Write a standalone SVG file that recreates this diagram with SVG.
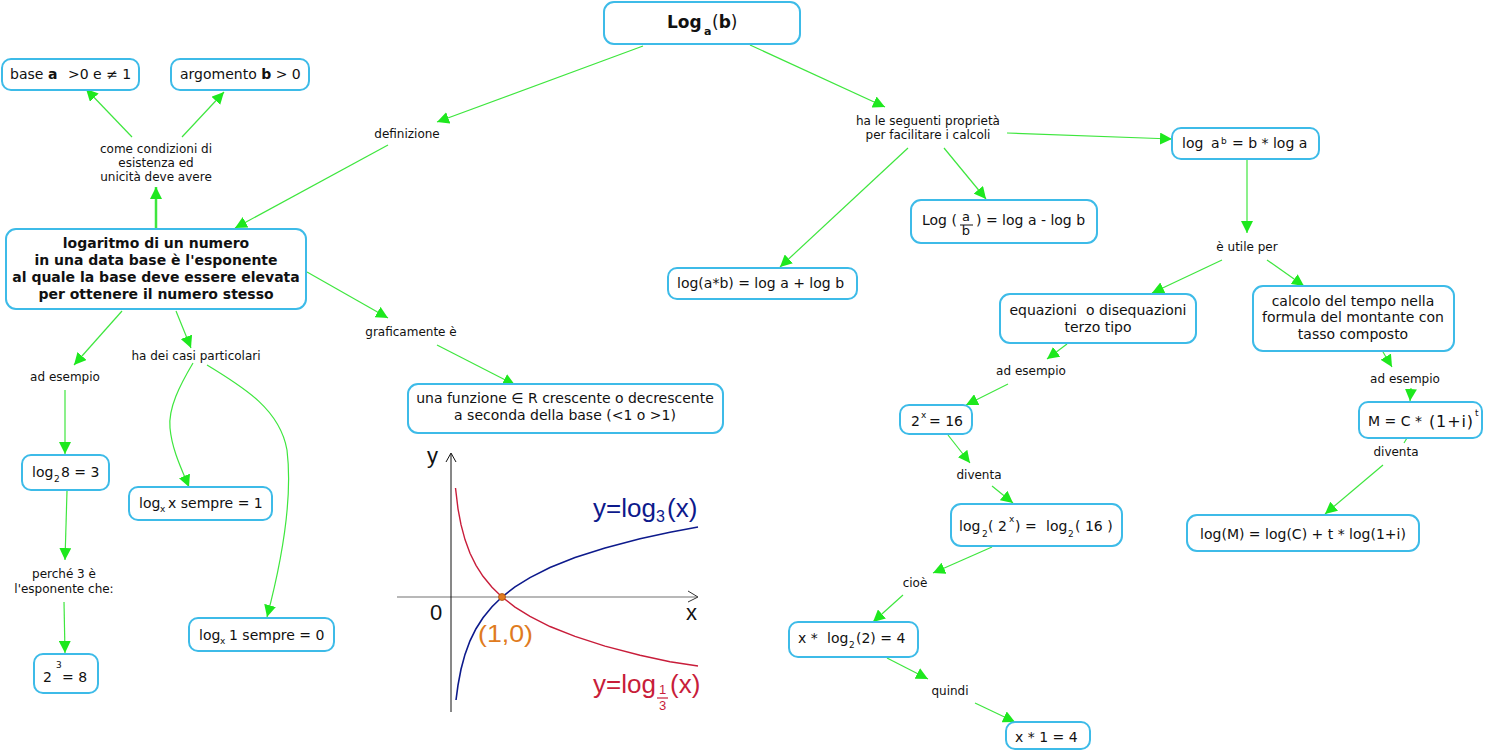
<svg xmlns="http://www.w3.org/2000/svg" width="1485" height="752" viewBox="0 0 1485 752">
<style>
.box{fill:#fff;stroke:#3dbbe8;stroke-width:2}
.t{font-family:"DejaVu Sans",Verdana,sans-serif;font-size:14px;fill:#111}
.l{font-family:"DejaVu Sans",Verdana,sans-serif;font-size:12px;fill:#111;text-anchor:middle}
.m{text-anchor:middle}
.b{font-weight:bold}
.s{font-size:9px}
.c{stroke:#3ee63e;stroke-width:1.2;fill:none;marker-end:url(#ah)}
.g{font-family:"Liberation Sans",Arial,sans-serif}
</style>
<defs>
<marker id="ah" markerUnits="userSpaceOnUse" markerWidth="13" markerHeight="12" refX="12" refY="6" orient="auto">
<path d="M0,0 L12,6 L0,12 z" fill="#1ee81e"/>
</marker>
</defs>
<rect width="1485" height="752" fill="#fff"/>

<g id="connectors">
<line class="c" x1="643" y1="46" x2="437" y2="122"/>
<line class="c" x1="388" y1="145" x2="235" y2="228"/>
<line class="c" x1="750" y1="45" x2="885" y2="107"/>
<line class="c" x1="1007" y1="133" x2="1172" y2="139"/>
<line class="c" x1="908" y1="148" x2="780" y2="267"/>
<line class="c" x1="944" y1="148" x2="986" y2="199"/>
<line class="c" x1="1247" y1="160" x2="1247" y2="233"/>
<line class="c" x1="1222" y1="260" x2="1152" y2="293"/>
<line class="c" x1="1267" y1="260" x2="1304" y2="286"/>
<line class="c" x1="156" y1="228" x2="156" y2="187" style="stroke-width:2.5"/>
<line class="c" x1="132" y1="137" x2="86" y2="89"/>
<line class="c" x1="182" y1="137" x2="224" y2="92"/>
<line class="c" x1="122" y1="311" x2="74" y2="365"/>
<line class="c" x1="176" y1="311" x2="191" y2="348"/>
<line class="c" x1="65" y1="390" x2="65" y2="454"/>
<line class="c" x1="67" y1="491" x2="65" y2="560"/>
<line class="c" x1="64" y1="602" x2="65" y2="653"/>
<path class="c" d="M193,363 C180,385 168,408 170,428 C172,450 182,470 189,487"/>
<path class="c" d="M207,365 C245,388 280,410 287,450 C293,500 282,560 267,617"/>
<line class="c" x1="307" y1="272" x2="388" y2="318"/>
<line class="c" x1="437" y1="345" x2="515" y2="385"/>
<line class="c" x1="1067" y1="344" x2="1047" y2="359"/>
<line class="c" x1="1008" y1="384" x2="966" y2="405"/>
<line class="c" x1="948" y1="435" x2="970" y2="463"/>
<line class="c" x1="992" y1="486" x2="1013" y2="503"/>
<line class="c" x1="992" y1="547" x2="933" y2="573"/>
<line class="c" x1="903" y1="595" x2="873" y2="622"/>
<line class="c" x1="887" y1="658" x2="928" y2="679"/>
<line class="c" x1="975" y1="703" x2="1015" y2="722"/>
<line class="c" x1="1383" y1="352" x2="1392" y2="367"/>
<line class="c" x1="1411" y1="388" x2="1410" y2="401"/>
<line x1="1407" y1="438" x2="1404" y2="443" stroke="#3ee63e" stroke-width="1.2"/>
<line class="c" x1="1383" y1="465" x2="1325" y2="514"/>
</g>

<g id="n-title">
<rect class="box" x="604" y="2" width="196" height="42" rx="10"/>
<text class="t b" x="667" y="28" style="font-size:17px">Log</text>
<text class="t b" x="704" y="35" style="font-size:11px">a</text>
<text class="t" x="712" y="28" style="font-size:17px">(<tspan class="b">b</tspan>)</text>
</g>

<g id="n-base">
<rect class="box" x="2" y="59" width="137" height="31" rx="9"/>
<text class="t" x="10" y="79">base</text>
<text class="t b" x="48" y="79">a</text>
<text class="t" x="68" y="79">&gt;0 e ≠ 1</text>
</g>

<g id="n-argomento">
<rect class="box" x="171" y="59" width="138" height="31" rx="9"/>
<text class="t" x="180" y="79">argomento <tspan class="b">b</tspan> &gt; 0</text>
</g>

<g id="l-condizioni">
<text class="l" x="156" y="153">come condizioni di</text>
<text class="l" x="156" y="167">esistenza ed</text>
<text class="l" x="156" y="181">unicità deve avere</text>
</g>

<g id="l-definizione"><text class="l" x="407" y="138">definizione</text></g>

<g id="n-logaritmo">
<rect class="box" x="6" y="229" width="300" height="80" rx="10"/>
<text class="t b m" x="156" y="248">logaritmo di un numero</text>
<text class="t b m" x="156" y="265">in una data base è l'esponente</text>
<text class="t b m" x="156" y="282">al quale la base deve essere elevata</text>
<text class="t b m" x="156" y="299">per ottenere il numero stesso</text>
</g>

<g id="l-grafic"><text class="l" x="411" y="336">graficamente è</text></g>

<g id="n-funzione">
<rect class="box" x="408" y="384" width="315" height="49" rx="10"/>
<text class="t m" x="565" y="403">una funzione ∈ R crescente o decrescente</text>
<text class="t m" x="565" y="420">a seconda della base (&lt;1 o &gt;1)</text>
</g>

<g id="l-adesempio1"><text class="l" x="65" y="381">ad esempio</text></g>
<g id="l-casi"><text class="l" x="196" y="360">ha dei casi particolari</text></g>

<g id="n-log28">
<rect class="box" x="22" y="455" width="87" height="35" rx="9"/>
<text class="t" x="32" y="477">log</text>
<text class="t s" x="54" y="482">2</text>
<text class="t" x="61" y="477">8 = 3</text>
</g>

<g id="n-logxx">
<rect class="box" x="129" y="487" width="143" height="33" rx="9"/>
<text class="t" x="139" y="508">log</text>
<text class="t s" x="160" y="512">x</text>
<text class="t" x="168" y="508">x sempre = 1</text>
</g>

<g id="l-perche">
<text class="l" x="64" y="578">perché 3 è</text>
<text class="l" x="64" y="593">l'esponente che:</text>
</g>

<g id="n-23">
<rect class="box" x="34" y="654" width="64" height="39" rx="9"/>
<text class="t" x="43" y="682">2</text>
<text class="t s" x="56" y="668">3</text>
<text class="t" x="62" y="682">= 8</text>
</g>

<g id="n-logx1">
<rect class="box" x="189" y="618" width="145" height="33" rx="9"/>
<text class="t" x="199" y="640">log</text>
<text class="t s" x="220" y="644">x</text>
<text class="t" x="229" y="640">1 sempre = 0</text>
</g>

<g id="graph">
<line x1="397" y1="597" x2="697" y2="597" stroke="#a0a0a0" stroke-width="1.5"/>
<polyline points="688,591 698,597 688,602" fill="none" stroke="#333" stroke-width="1"/>
<line x1="451" y1="454" x2="451" y2="712" stroke="#111" stroke-width="1"/>
<polyline points="446,462 451,453 456,462" fill="none" stroke="#111" stroke-width="1"/>
<polyline fill="none" stroke="#0d1a8c" stroke-width="1.6" points="456,700 458,685.2 461,669.3 465,654.4 470,640.8 476,628.7 483,617.7 492,606.7 502,597 515,586.9 530,577.6 550,567.5 575,557.6 605,547.9 640,538.8 670,532.3 698,527"/>
<polyline fill="none" stroke="#c81d3a" stroke-width="1.4" points="455.5,488 458,508.8 461,524.7 465,539.6 470,553.2 476,565.3 483,576.3 492,587.3 502,597 515,607.1 530,616.4 550,626.5 575,636.4 605,646.1 640,655.2 670,661.7 698,666"/>
<circle cx="502" cy="597" r="3.5" fill="#e07b20" stroke="#a84f10" stroke-width="0.8"/>
<text class="g" x="427" y="463" font-size="22" fill="#111">y</text>
<text class="g" x="430" y="620" font-size="22" fill="#111">0</text>
<text class="g" x="686" y="620" font-size="22" fill="#111">x</text>
<text class="g" x="478" y="642" font-size="24" fill="#e07b20" textLength="55" lengthAdjust="spacingAndGlyphs">(1,0)</text>
<text class="g" x="593" y="517" font-size="26" fill="#0d1a8c">y=log</text>
<text class="g" x="656" y="522" font-size="16" fill="#0d1a8c">3</text>
<text class="g" x="667" y="517" font-size="26" fill="#0d1a8c">(x)</text>
<text class="g" x="593" y="693" font-size="26" fill="#c81d3a">y=log</text>
<text class="g" x="659" y="694" font-size="13" fill="#c81d3a">1</text>
<line x1="657" y1="698" x2="668" y2="698" stroke="#c81d3a" stroke-width="1.2"/>
<text class="g" x="659" y="710" font-size="13" fill="#c81d3a">3</text>
<text class="g" x="670" y="693" font-size="26" fill="#c81d3a">(x)</text>
</g>

<g id="l-proprieta">
<text class="l" x="928" y="125">ha le seguenti proprietà</text>
<text class="l" x="928" y="139">per facilitare i calcoli</text>
</g>

<g id="n-logab-pow">
<rect class="box" x="1172" y="128" width="147" height="31" rx="9"/>
<text class="t" x="1182" y="148">log</text>
<text class="t" x="1211" y="148">a</text>
<text class="t s" x="1221" y="144">b</text>
<text class="t" x="1232" y="148">= b * log a</text>
</g>

<g id="n-logdiv">
<rect class="box" x="911" y="200" width="186" height="43" rx="10"/>
<text class="t" x="922" y="225">Log (</text>
<text class="t m" x="966" y="221" style="font-size:13px">a</text>
<line x1="960" y1="225" x2="973" y2="225" stroke="#111" stroke-width="1"/>
<text class="t m" x="966" y="235" style="font-size:13px">b</text>
<text class="t" x="976" y="225">) = log a - log b</text>
</g>

<g id="n-logmul">
<rect class="box" x="668" y="268" width="189" height="31" rx="9"/>
<text class="t" x="677" y="288">log(a*b) = log a + log b</text>
</g>

<g id="l-utile"><text class="l" x="1247" y="251">è utile per</text></g>

<g id="n-equazioni">
<rect class="box" x="1000" y="294" width="196" height="49" rx="10"/>
<text class="t m" x="1098" y="315">equazioni&#160; o disequazioni</text>
<text class="t m" x="1098" y="332">terzo tipo</text>
</g>

<g id="n-calcolo">
<rect class="box" x="1253" y="286" width="201" height="65" rx="10"/>
<text class="t m" x="1353" y="306">calcolo del tempo nella</text>
<text class="t m" x="1353" y="322">formula del montante con</text>
<text class="t m" x="1353" y="339">tasso composto</text>
</g>

<g id="l-adesempio2"><text class="l" x="1031" y="375">ad esempio</text></g>

<g id="n-2x16">
<rect class="box" x="900" y="405" width="72" height="29" rx="9"/>
<text class="t" x="911" y="426">2</text>
<text class="t s" x="921" y="418">x</text>
<text class="t" x="929" y="426">= 16</text>
</g>

<g id="l-diventa1"><text class="l" x="979" y="479">diventa</text></g>

<g id="n-log2x">
<rect class="box" x="951" y="504" width="171" height="42" rx="10"/>
<text class="t" x="959" y="531">log</text>
<text class="t s" x="982" y="537">2</text>
<text class="t" x="988" y="531">( 2</text>
<text class="t s" x="1009" y="522">x</text>
<text class="t" x="1015" y="531">) =</text>
<text class="t" x="1046" y="531">log</text>
<text class="t s" x="1068" y="537">2</text>
<text class="t" x="1075" y="531">( 16 )</text>
</g>

<g id="l-cioe"><text class="l" x="915" y="587">cioè</text></g>

<g id="n-xlog2">
<rect class="box" x="789" y="622" width="129" height="35" rx="9"/>
<text class="t" x="798" y="643">x *</text>
<text class="t" x="827" y="643">log</text>
<text class="t s" x="849" y="648">2</text>
<text class="t" x="856" y="643">(2) = 4</text>
</g>

<g id="l-quindi"><text class="l" x="950" y="695">quindi</text></g>

<g id="n-x14">
<rect class="box" x="1006" y="722" width="84" height="27" rx="9"/>
<text class="t" x="1015" y="742">x * 1 = 4</text>
</g>

<g id="l-adesempio3"><text class="l" x="1405" y="383">ad esempio</text></g>

<g id="n-montante">
<rect class="box" x="1359" y="402" width="123" height="36" rx="9"/>
<text class="t" x="1368" y="426">M = C *</text>
<text class="t" x="1429" y="427" style="font-size:16px" textLength="44" lengthAdjust="spacing">(1+i)</text>
<text class="t s" x="1475" y="416">t</text>
</g>

<g id="l-diventa2"><text class="l" x="1396" y="456">diventa</text></g>

<g id="n-logM">
<rect class="box" x="1187" y="515" width="232" height="36" rx="10"/>
<text class="t m" x="1303" y="539">log(M) = log(C) + t * log(1+i)</text>
</g>
</svg>
